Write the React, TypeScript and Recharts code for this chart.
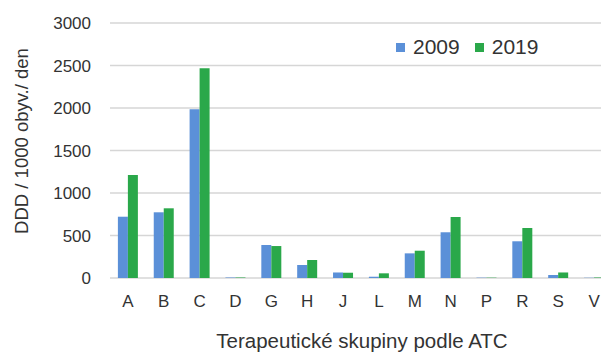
import React from "react";
import { BarChart, Bar, XAxis, YAxis, CartesianGrid, Legend } from "recharts";

const categories = ["A", "B", "C", "D", "G", "H", "J", "L", "M", "N", "P", "R", "S", "V"];
const values2009 = [721, 773, 1985, 6, 388, 153, 65, 15, 290, 538, 4, 432, 35, 3];
const values2019 = [1212, 820, 2467, 6, 376, 212, 62, 55, 321, 718, 4, 588, 65, 6];
const yTicks = [0, 500, 1000, 1500, 2000, 2500, 3000];
const seriesNames = ["2009", "2019"];
const seriesColors = ["#5b90d8", "#2aa84a"];

const data = categories.map((c, i) => ({ cat: c, y2009: values2009[i], y2019: values2019[i] }));

const FONT = "'Liberation Sans', Arial, sans-serif";
const TEXT = "#333";

const LegendContent = () => (
  <div style={{ display: "flex", alignItems: "center", fontFamily: FONT, fontSize: 21, color: TEXT, lineHeight: "24px" }}>
    {seriesNames.map((n, i) => (
      <div key={n} style={{ display: "flex", alignItems: "center", marginRight: 15 }}>
        <span style={{ display: "inline-block", width: 9, height: 9, background: seriesColors[i], marginRight: 8 }} />
        <span>{n}</span>
      </div>
    ))}
  </div>
);

const YLabel = () => {
  const x = 21;
  const y = 141;
  return (
    <text x={x} y={y} transform={`rotate(-90, ${x}, ${y})`} textAnchor="middle" dominantBaseline="central" fontSize={18.5} fill={TEXT} fontFamily={FONT}>
      DDD / 1000 obyv./ den
    </text>
  );
};

const XLabel = (props: any) => {
  const vb = props.viewBox || {};
  const x = vb.x + vb.width / 2 + 1;
  const y = vb.y + vb.height - 5;
  return (
    <text x={x} y={y} textAnchor="middle" fontSize={20.5} fill={TEXT} fontFamily={FONT}>
      Terapeutické skupiny podle ATC
    </text>
  );
};

export default function App() {
  return (
    <div style={{ position: "absolute", left: 0, top: 0, width: 601, height: 353, overflow: "hidden", background: "#fff" }}>
      <BarChart
        width={612}
        height={353}
        data={data}
        margin={{ top: 23, right: 0, bottom: 0, left: 0 }}
        barCategoryGap="22%"
        barGap={0}
        style={{ fontFamily: FONT }}
      >
        <CartesianGrid vertical={false} stroke="#d6d6d6" strokeWidth={1.3} />
        <XAxis
          dataKey="cat"
          axisLine={false}
          tickLine={false}
          height={75}
          tick={{ fontSize: 17, fill: TEXT, fontFamily: FONT }}
          tickMargin={11}
          interval={0}
          label={<XLabel />}
        />
        <YAxis
          width={110}
          domain={[0, 3000]}
          ticks={yTicks}
          axisLine={false}
          tickLine={false}
          tickMargin={13}
          tick={{ fontSize: 17, fill: TEXT, fontFamily: FONT }}
          label={<YLabel />}
        />
        <Legend
          verticalAlign="middle"
          align="center"
          layout="horizontal"
          content={<LegendContent />}
          wrapperStyle={{ top: 35, left: 396, width: 200 }}
        />
        <Bar dataKey="y2009" name="2009" fill={seriesColors[0]} isAnimationActive={false} />
        <Bar dataKey="y2019" name="2019" fill={seriesColors[1]} isAnimationActive={false} />
      </BarChart>
    </div>
  );
}
